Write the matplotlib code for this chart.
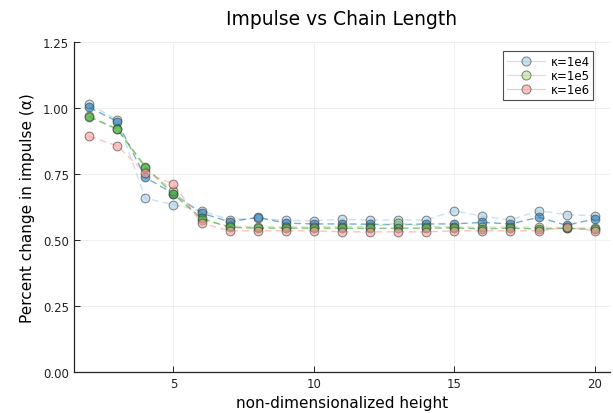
import numpy as np
import matplotlib
matplotlib.use("Agg")
import matplotlib.pyplot as plt

# chain length (non-dimensionalized height)
heights = list(range(2, 21))

# kappa = 1e4, two runs (light = labelled, dark = unlabelled)
k4_a = [1.015, 0.955, 0.658, 0.634, 0.611, 0.577, 0.582, 0.574, 0.573, 0.578, 0.576, 0.576, 0.576, 0.611, 0.590, 0.576, 0.611, 0.596, 0.592]
k4_b = [1.003, 0.949, 0.737, 0.676, 0.602, 0.569, 0.586, 0.564, 0.561, 0.561, 0.560, 0.558, 0.561, 0.561, 0.567, 0.561, 0.586, 0.556, 0.580]
# kappa = 1e5
k5_a = [0.968, 0.922, 0.772, 0.687, 0.576, 0.553, 0.550, 0.550, 0.550, 0.551, 0.551, 0.564, 0.551, 0.550, 0.548, 0.550, 0.548, 0.547, 0.545]
k5_b = [0.967, 0.920, 0.778, 0.673, 0.582, 0.548, 0.545, 0.545, 0.545, 0.545, 0.544, 0.545, 0.545, 0.546, 0.542, 0.545, 0.542, 0.544, 0.540]
# kappa = 1e6
k6_a = [0.893, 0.857, 0.754, 0.713, 0.564, 0.535, 0.535, 0.535, 0.535, 0.531, 0.531, 0.531, 0.531, 0.535, 0.535, 0.535, 0.535, 0.548, 0.535]

series = [
    (k4_a, "#a6cee3", "κ=1e4"),
    (k4_b, "#1f78b4", None),
    (k5_a, "#b2df8a", "κ=1e5"),
    (k5_b, "#33a02c", None),
    (k6_a, "#fb9a99", "κ=1e6"),
]

fig = plt.figure(figsize=(6.13, 4.14), dpi=100)
ax = fig.add_axes([0.1207, 0.099, 0.8743, 0.797])

for vals, col, lab in series:
    # line and markers drawn separately so each can have its own alpha
    ax.plot(heights, vals, color=col, ls=(0, (5, 3)), lw=1.0, alpha=0.6, zorder=2)
    ax.plot(heights, vals, ls="none", marker="o", ms=6.3, mfc=col, mec="#333333",
            mew=0.7, alpha=0.6, zorder=3)

# legend proxies
for vals, col, lab in series:
    if lab:
        ax.plot([], [], color=col, ls="-", lw=0.8, marker="o", ms=6.5, mfc=col,
                mec="#333333", mew=0.7, alpha=0.6, label=lab)

ax.set_xlim(1.46, 20.54)
ax.set_ylim(0, 1.25)
ax.set_xticks([5, 10, 15, 20])
ax.set_yticks([0, 0.25, 0.5, 0.75, 1.0, 1.25])
ax.set_yticklabels(["0.00", "0.25", "0.50", "0.75", "1.00", "1.25"])
ax.grid(True, color="#ececec", lw=0.6)
ax.set_axisbelow(True)
for s in ["top", "right"]:
    ax.spines[s].set_visible(False)
for s in ["left", "bottom"]:
    ax.spines[s].set_linewidth(0.9)
    ax.spines[s].set_color("#222222")
ax.tick_params(direction="in", length=4, width=0.7, labelsize=8.5, colors="#222222")

ax.set_title("Impulse vs Chain Length", fontsize=13.5, pad=13)
ax.set_xlabel("non-dimensionalized height", fontsize=11, labelpad=4)
ax.set_ylabel("Percent change in impulse (α)", fontsize=11, labelpad=6)

leg = ax.legend(loc="upper right", bbox_to_anchor=(0.98, 0.99), fontsize=8.5,
                frameon=True, fancybox=False, handlelength=3.2, borderpad=0.3,
                labelspacing=0.1, handletextpad=0.5)
leg.get_frame().set_edgecolor("#222222")
leg.get_frame().set_linewidth(0.8)

fig.savefig("out.png", dpi=100)
